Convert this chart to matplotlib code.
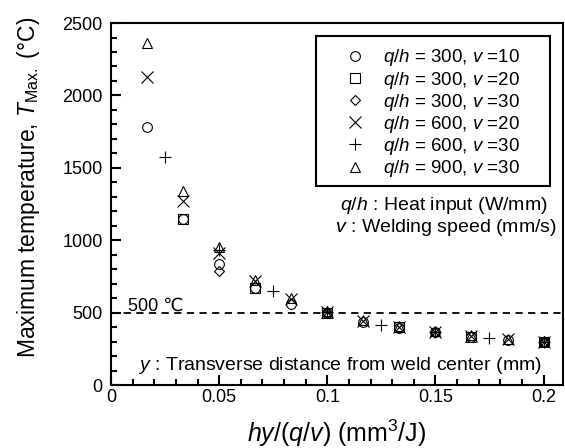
import matplotlib
matplotlib.use('Agg')
import matplotlib.pyplot as plt
from matplotlib.patches import Rectangle

plt.rcParams['font.family'] = ['Liberation Sans', 'DejaVu Sans']
plt.rcParams['mathtext.fontset'] = 'custom'
plt.rcParams['mathtext.rm'] = 'Liberation Sans'
plt.rcParams['mathtext.it'] = 'Liberation Sans:italic'

# data, x = hy/(q/v)
x60 = [k / 60 for k in range(1, 13)]
x30 = [k / 30 for k in range(1, 7)]
x20 = [k / 20 for k in range(1, 5)]
x40 = [k / 40 for k in range(1, 9)]

t_300_10 = [1780, 1145, 835, 668, 560, 498, 438, 396, 364, 332, 314, 295]
t_300_20 = [1145, 668, 498, 398, 333, 297]
t_300_30 = [785, 495, 364, 295]
t_600_20 = [2130, 1270, 912, 720, 596, 503, 444, 404, 368, 338, 318, 300]
t_600_30 = [1575, 932, 648, 505, 417, 365, 325, 298]
t_900_30 = [2360, 1338, 952, 728, 603, 508, 450, 410, 372, 342, 321, 302]

series = [
    (x60, t_300_10, 'o', 7, '$q$/$h$ = 300, $v$ =10'),
    (x30, t_300_20, 's', 6.5, '$q$/$h$ = 300, $v$ =20'),
    (x20, t_300_30, 'D', 5, '$q$/$h$ = 300, $v$ =30'),
    (x60, t_600_20, 'x', 8, '$q$/$h$ = 600, $v$ =20'),
    (x40, t_600_30, '+', 9, '$q$/$h$ = 600, $v$ =30'),
    (x60, t_900_30, '^', 7, '$q$/$h$ = 900, $v$ =30'),
]

fig = plt.figure(figsize=(5.65, 4.48), dpi=100)
ax = fig.add_axes([0.1965, 0.1406, 0.8, 0.808])

for xs, ts, m, ms, lab in series:
    ax.plot(xs, ts, linestyle='none', marker=m, markersize=ms,
            markerfacecolor='none', markeredgecolor='black',
            markeredgewidth=0.8, label=lab)

ax.axhline(500, color='black', linestyle=(0, (4, 3)), linewidth=1.3)
ax.text(0.0376, 0.204, '500 ℃', fontsize=13, transform=ax.transAxes)
ax.text(0.06, 0.055, '$y$ : Transverse distance from weld center (mm)', fontsize=14,
        va='center', transform=ax.transAxes)
ax.text(0.967, 0.497, '$q$/$h$ : Heat input (W/mm)', fontsize=14,
        ha='right', va='center', transform=ax.transAxes)
ax.text(0.987, 0.436, '$v$ : Welding speed (mm/s)', fontsize=14,
        ha='right', va='center', transform=ax.transAxes)

ax.set_xlim(0, 0.209)
ax.set_ylim(0, 2500)
ax.set_xticks([0, 0.05, 0.1, 0.15, 0.2])
ax.set_xticklabels(['0', '0.05', '0.1', '0.15', '0.2'])
ax.set_yticks([0, 500, 1000, 1500, 2000, 2500])
ax.set_xticks([i * 0.01 for i in range(21)], minor=True)
ax.set_yticks(range(0, 2501, 100), minor=True)
ax.tick_params(which='both', direction='in', top=False, right=False,
               labelsize=13, width=1.5)
ax.tick_params(which='major', length=7)
ax.tick_params(which='minor', length=4)
ax.tick_params(axis='y', pad=6)
ax.tick_params(axis='x', pad=3)
for s in ax.spines.values():
    s.set_linewidth(1.5)

ax.set_xlabel('$hy$/($q$/$v$) (mm$^3$/J)', fontsize=18, labelpad=8)
ax.set_ylabel('Maximum temperature, $T_{\\mathrm{Max.}}$ (°C)', fontsize=16.5)
ax.yaxis.set_label_coords(-0.153, 0.547)

# legend box drawn separately so its size matches the original
ax.add_patch(Rectangle((0.4535, 0.5497), 0.5175, 0.4143, transform=ax.transAxes,
                       fill=True, facecolor='white', edgecolor='black',
                       linewidth=1.5, zorder=4))
leg = ax.legend(loc='upper left', bbox_to_anchor=(0.519, 0.9325), fontsize=13.5,
                handlelength=1.0, handletextpad=1.0, labelspacing=0.06,
                borderpad=0, borderaxespad=0, frameon=False)
leg.set_zorder(5)

fig.savefig('out.png', dpi=100)
